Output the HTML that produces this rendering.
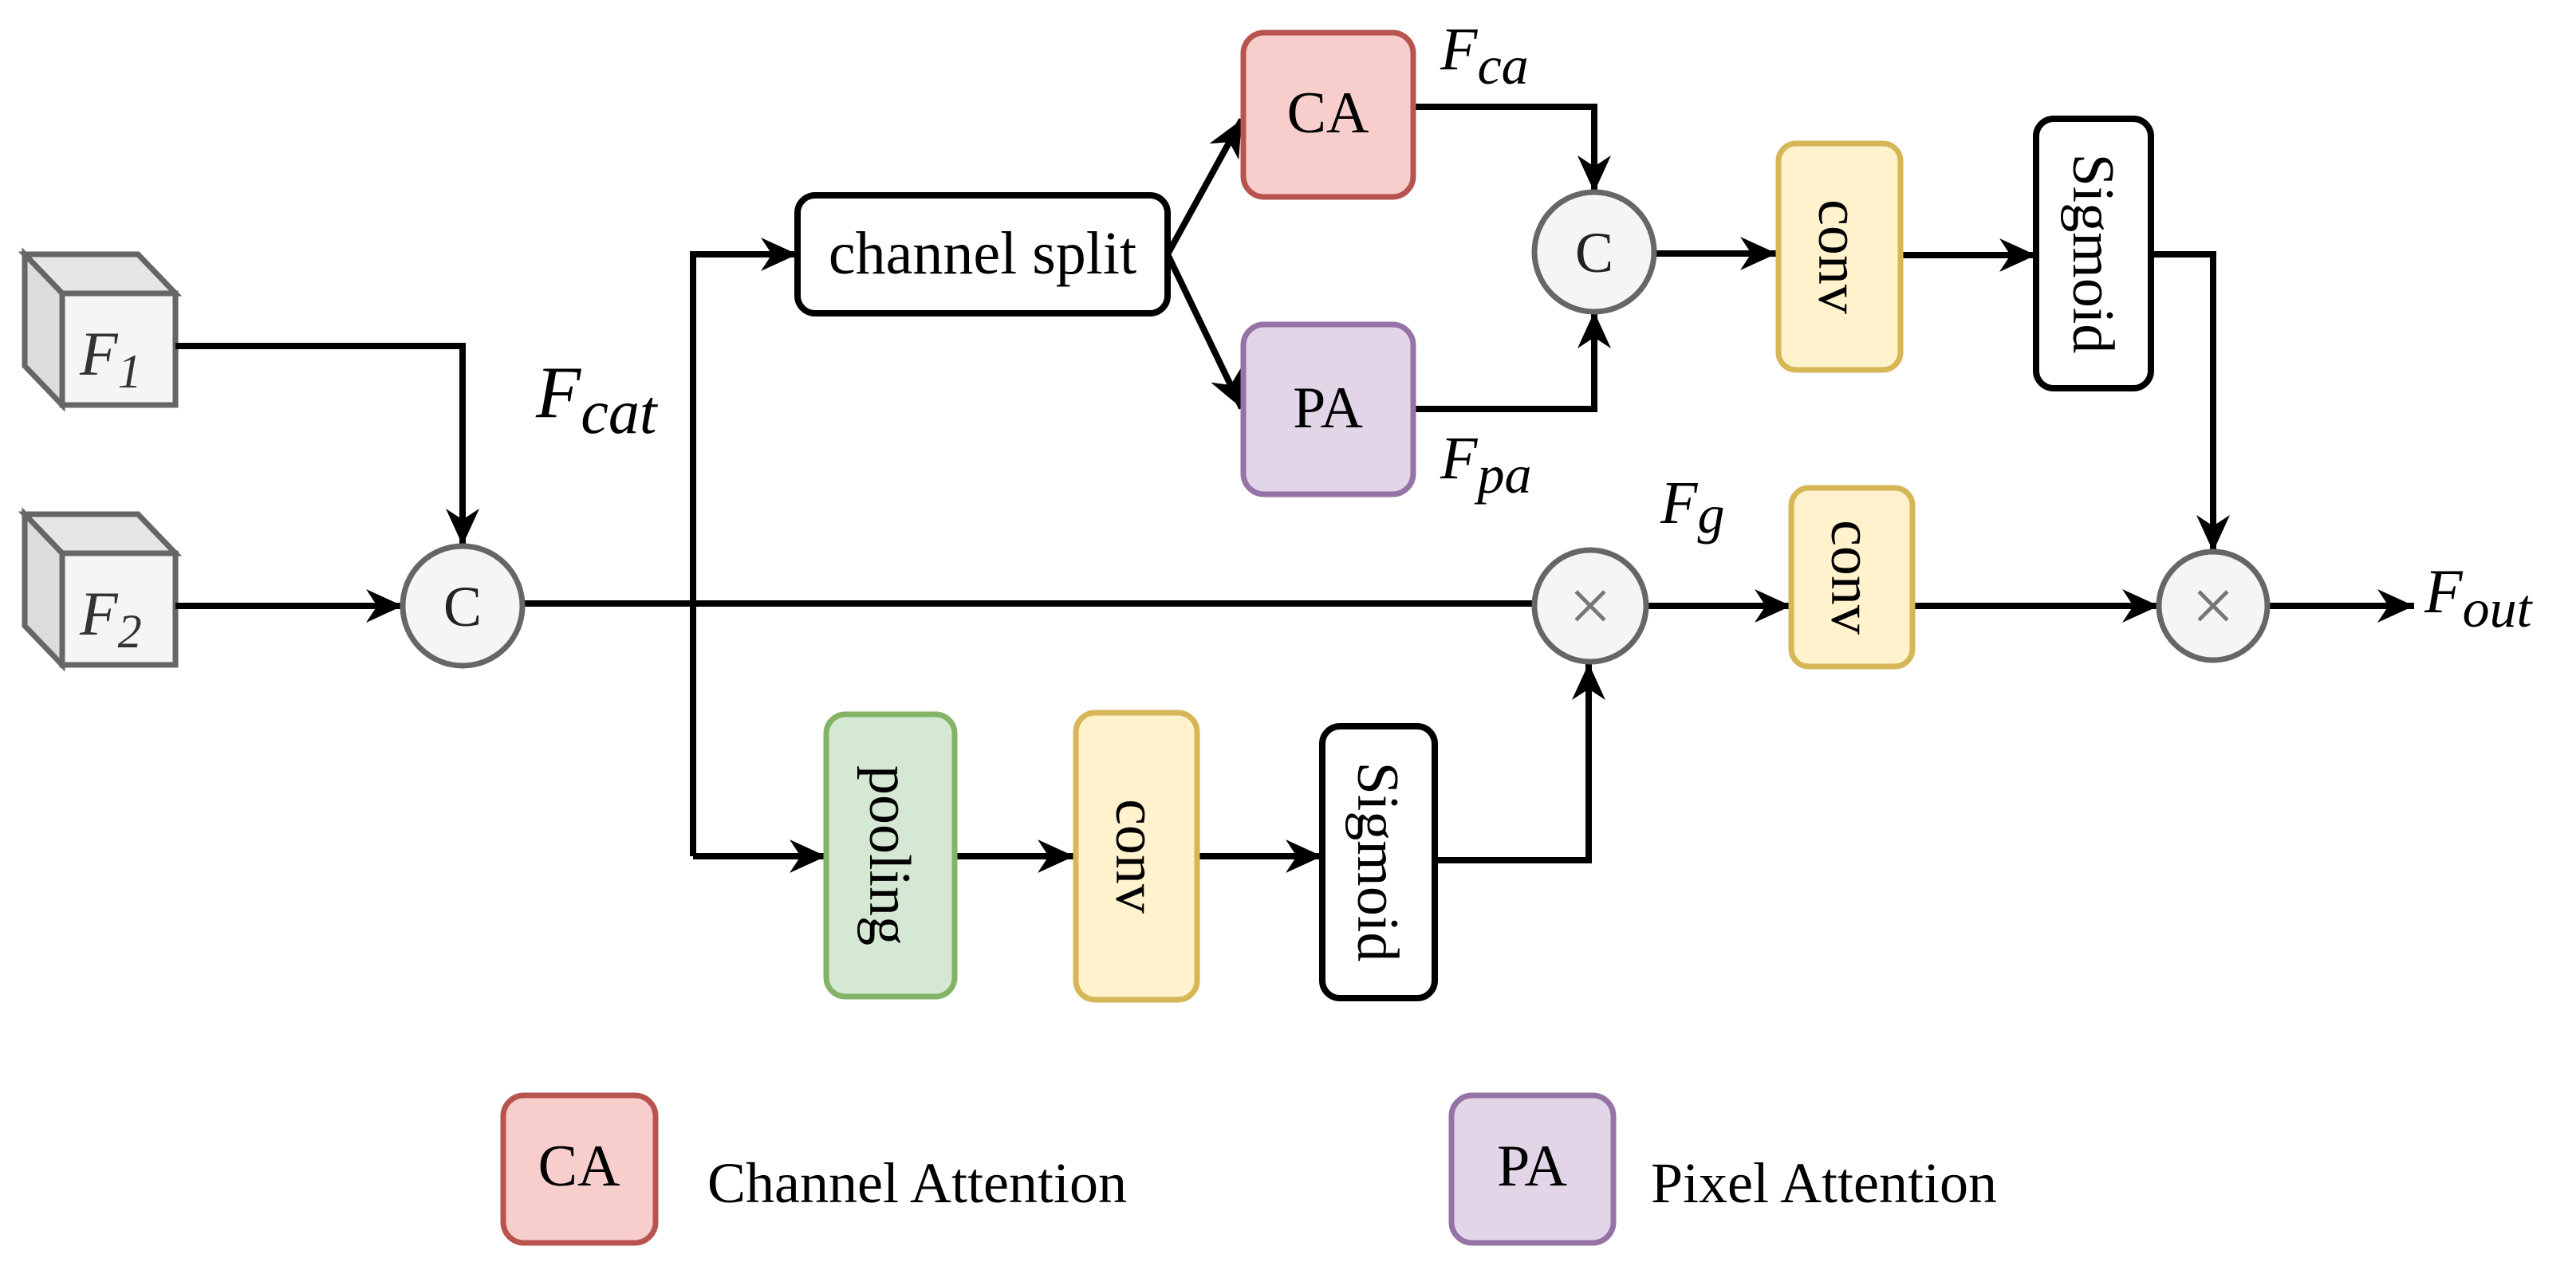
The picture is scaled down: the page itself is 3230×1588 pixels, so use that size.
<!DOCTYPE html>
<html><head><meta charset="utf-8"><style>
html,body{margin:0;padding:0;background:#fff;}
svg{display:block;}
text{font-family:"Liberation Serif",serif;}
</style></head><body>
<svg width="3230" height="1588" viewBox="0 0 3230 1588" xmlns="http://www.w3.org/2000/svg">
<defs>
<marker id="a" markerUnits="userSpaceOnUse" markerWidth="46" markerHeight="42" viewBox="0 0 10 10" refX="10" refY="5" orient="auto" preserveAspectRatio="none">
<path d="M0,0 L10,5 L0,10 L3,5 z" fill="#000"/>
</marker>
</defs>

<g stroke="#666" stroke-width="7" stroke-linejoin="miter">
<polygon points="31,319 173,319 220,368 78,368" fill="#e6e6e6"/>
<polygon points="31,319 78,368 78,508 31,459" fill="#dcdcdc"/>
<rect x="78" y="368" width="142" height="140" fill="#f5f5f5"/>
<polygon points="31,645 173,645 220,694 78,694" fill="#e6e6e6"/>
<polygon points="31,645 78,694 78,834 31,785" fill="#dcdcdc"/>
<rect x="78" y="694" width="142" height="140" fill="#f5f5f5"/>
</g>
<text x="100" y="470" font-size="78" font-style="italic" fill="#333">F<tspan font-size="60" dy="16">1</tspan></text>
<text x="100" y="796" font-size="78" font-style="italic" fill="#333">F<tspan font-size="60" dy="16">2</tspan></text>

<g fill="none" stroke="#000" stroke-width="8">
<path d="M220,434 H580 V684" marker-end="url(#a)"/>
<path d="M220,760 H505" marker-end="url(#a)"/>
<path d="M655,757 H1924"/>
<path d="M869,1074 V319 H1000" marker-end="url(#a)"/>
<path d="M869,1074 H1036" marker-end="url(#a)"/>
<path d="M1464,319 L1557,150" marker-end="url(#a)"/>
<path d="M1464,319 L1557,512" marker-end="url(#a)"/>
<path d="M1772,134 H1999 V241" marker-end="url(#a)"/>
<path d="M1772,513 H1999 V391" marker-end="url(#a)"/>
<path d="M2074,318 H2228" marker-end="url(#a)"/>
<path d="M2383,320 H2553" marker-end="url(#a)"/>
<path d="M2697,319 H2775 V692" marker-end="url(#a)"/>
<path d="M2063,760 H2246" marker-end="url(#a)"/>
<path d="M2398,760 H2707" marker-end="url(#a)"/>
<path d="M2843,760 H3027" marker-end="url(#a)"/>
<path d="M1197,1074 H1347" marker-end="url(#a)"/>
<path d="M1501,1074 H1658" marker-end="url(#a)"/>
<path d="M1799,1079 H1992 V832" marker-end="url(#a)"/>
</g>

<g fill="#f5f5f5" stroke="#666" stroke-width="7">
<circle cx="580" cy="760" r="75"/>
<circle cx="1999" cy="316" r="75"/>
<circle cx="1994" cy="760" r="70"/>
<circle cx="2775" cy="760" r="68"/>
</g>
<text x="580" y="785" font-size="72" text-anchor="middle" fill="#222">C</text>
<text x="1999" y="341" font-size="72" text-anchor="middle" fill="#222">C</text>
<text x="1994" y="792" font-size="96" text-anchor="middle" fill="#777">×</text>
<text x="2775" y="792" font-size="96" text-anchor="middle" fill="#777">×</text>

<rect x="1000" y="245" width="464" height="148" rx="22" fill="#fff" stroke="#000" stroke-width="8"/>
<text x="1232" y="343" font-size="76" text-anchor="middle">channel split</text>

<rect x="1559" y="41" width="213" height="206" rx="26" fill="#f8cecc" stroke="#b85450" stroke-width="7"/>
<text x="1665" y="166" font-size="74" text-anchor="middle">CA</text>
<rect x="1559" y="407" width="213" height="213" rx="26" fill="#e1d5e7" stroke="#9673a6" stroke-width="7"/>
<text x="1665" y="536" font-size="74" text-anchor="middle">PA</text>

<rect x="2230" y="180" width="153" height="284" rx="22" fill="#fff2cc" stroke="#d6b656" stroke-width="7"/>
<text transform="translate(2306,322) rotate(90)" font-size="74" text-anchor="middle" dy="25">conv</text>
<rect x="2553" y="149" width="144" height="338" rx="22" fill="#fff" stroke="#000" stroke-width="8"/>
<text transform="translate(2625,318) rotate(90)" font-size="74" text-anchor="middle" dy="25">Sigmoid</text>

<rect x="2246" y="612" width="152" height="224" rx="22" fill="#fff2cc" stroke="#d6b656" stroke-width="7"/>
<text transform="translate(2322,724) rotate(90)" font-size="74" text-anchor="middle" dy="25">conv</text>

<rect x="1036" y="896" width="161" height="354" rx="24" fill="#d5e8d4" stroke="#82b366" stroke-width="7"/>
<text transform="translate(1116,1073) rotate(90)" font-size="74" text-anchor="middle" dy="25">pooling</text>
<rect x="1349" y="894" width="152" height="360" rx="24" fill="#fff2cc" stroke="#d6b656" stroke-width="7"/>
<text transform="translate(1425,1074) rotate(90)" font-size="74" text-anchor="middle" dy="25">conv</text>
<rect x="1658" y="911" width="141" height="341" rx="22" fill="#fff" stroke="#000" stroke-width="8"/>
<text transform="translate(1728,1081) rotate(90)" font-size="74" text-anchor="middle" dy="25">Sigmoid</text>

<text x="672" y="523" font-size="92" font-style="italic">F<tspan font-size="78" dy="20">cat</tspan></text>
<text x="1806" y="87" font-size="76" font-style="italic">F<tspan font-size="68" dy="18">ca</tspan></text>
<text x="1806" y="600" font-size="76" font-style="italic">F<tspan font-size="68" dy="18">pa</tspan></text>
<text x="2082" y="656" font-size="76" font-style="italic">F<tspan font-size="68" dy="12">g</tspan></text>
<text x="3040" y="768" font-size="78" font-style="italic">F<tspan font-size="68" dy="18">out</tspan></text>

<rect x="631" y="1374" width="191" height="185" rx="26" fill="#f8cecc" stroke="#b85450" stroke-width="7"/>
<text x="726" y="1487" font-size="74" text-anchor="middle">CA</text>
<text x="887" y="1508" font-size="72">Channel Attention</text>
<rect x="1820" y="1374" width="203" height="185" rx="26" fill="#e1d5e7" stroke="#9673a6" stroke-width="7"/>
<text x="1921" y="1487" font-size="74" text-anchor="middle">PA</text>
<text x="2070" y="1508" font-size="72">Pixel Attention</text>
</svg>
</body></html>
